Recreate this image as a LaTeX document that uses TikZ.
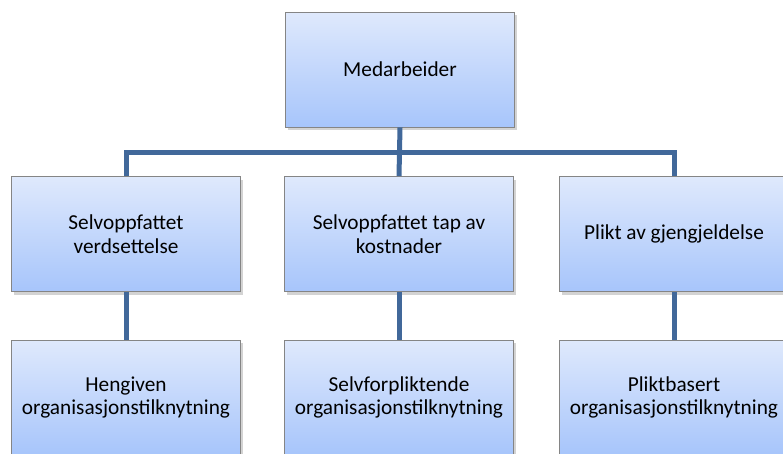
\documentclass[tikz,border=0pt]{standalone}
\usepackage{fontspec}
\setmainfont{Carlito}
\usetikzlibrary{shadows}

\definecolor{boxtop}{HTML}{DFE9FC}
\definecolor{boxbottom}{HTML}{A7C5FB}
\definecolor{boxborder}{HTML}{858585}
\definecolor{linkblue}{HTML}{41689A}

\begin{document}
\begin{tikzpicture}[x=1pt, y=-1pt,
    box/.style={draw=boxborder, line width=0.8pt, minimum width=229pt,
      minimum height=115pt, top color=boxtop, bottom color=boxbottom,
      align=center, text=black, font=\fontsize{21.3}{23.5}\selectfont,
      drop shadow={shadow xshift=2pt, shadow yshift=-3pt, opacity=0.35}},
    link/.style={draw=linkblue, line width=5pt}]

  \useasboundingbox (0,0) rectangle (783,453);

  \node[box] (med)   at (400,69.5) {Medarbeider};
  \node[box] (verd)  at (126,234)  {Selvoppfattet\\verdsettelse};
  \node[box] (tap)   at (399,234)  {Selvoppfattet tap av\\kostnader};
  \node[box] (plikt) at (674,234)  {Plikt av gjengjeldelse};

  \node[box] (hengiven) at (126,397.5) {Hengiven\\organisasjonstilknytning};
  \node[box] (selvforp) at (399,397.5) {Selvforpliktende\\organisasjonstilknytning};
  \node[box] (pliktbas) at (674,397.5) {Pliktbasert\\organisasjonstilknytning};

  \coordinate (fork) at (400,152);

  \draw[link] (med.south) -- (tap.north);
  \draw[link] (verd.north) |- (fork) -| (plikt.north);
  \draw[link] (verd) -- (hengiven);
  \draw[link] (tap) -- (selvforp);
  \draw[link] (plikt) -- (pliktbas);
\end{tikzpicture}
\end{document}
